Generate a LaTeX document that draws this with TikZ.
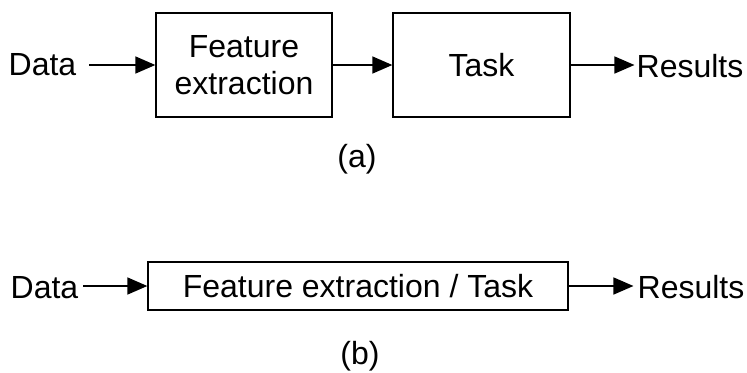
\documentclass[tikz,border=0pt]{standalone}
\usepackage{fontspec}
\setmainfont{Liberation Sans}
\usetikzlibrary{arrows.meta,calc}
\begin{document}
\begin{tikzpicture}[x=1bp,y=-1bp,
  every node/.style={font=\fontsize{32bp}{37.5bp}\selectfont},
  box/.style={draw, line width=1.3bp, inner sep=0pt, align=center},
  lbl/.style={inner sep=0pt, anchor=base},
  flow/.style={line width=1.5bp, -{Triangle[length=20bp,width=17bp]}}]
\useasboundingbox (0,0) rectangle (747,372);

% (a) two separate stages
\node[lbl] (dataA) at (42.5,75) {Data};
\node[box, minimum width=176bp, minimum height=104bp] (fe) at (244,65) {Feature\\extraction};
\node[box, minimum width=177bp, minimum height=104bp] (task) at (481.5,65) {Task};
\node[lbl] (resA) at (690,77) {Results};
\node[lbl] (capA) at (357,167) {(a)};

\draw[flow] ($(dataA.east |- fe.west)+(13,0)$) -- (fe.west);
\draw[flow] (fe.east) -- (task.west);
\draw[flow] (task.east) -- ($(task.east -| resA.west)+(-2,0)$);

% (b) one joint stage
\node[lbl] (dataB) at (44.5,298) {Data};
\node[box, minimum width=420bp, minimum height=48bp] (fet) at (358,286) {Feature extraction / Task};
\node[lbl] (resB) at (691,298) {Results};
\node[lbl] (capB) at (360,364.5) {(b)};

\draw[flow] ($(dataB.east |- fet.west)+(5,0)$) -- (fet.west);
\draw[flow] (fet.east) -- ($(fet.east -| resB.west)+(-4,0)$);
\end{tikzpicture}
\end{document}
